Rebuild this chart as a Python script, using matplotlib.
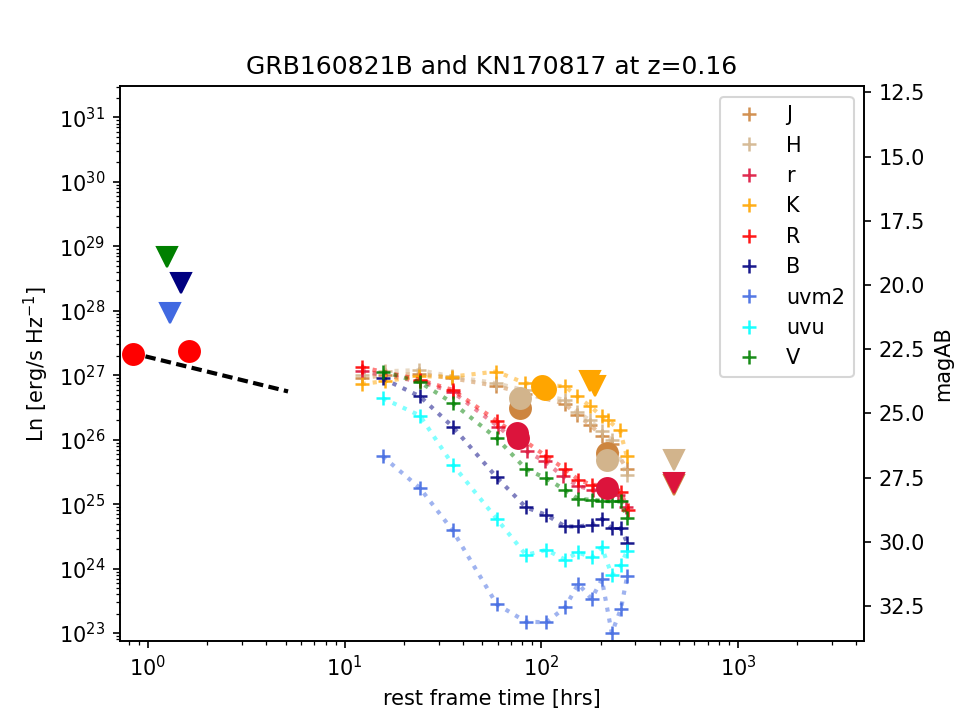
import matplotlib
matplotlib.use('Agg')
from matplotlib import pyplot as plt

# kilonova light curves (rest frame hours, Ln in erg/s/Hz)
t_uv = [15.6, 24.1, 35.4, 59.3, 83.5, 106, 132, 154, 180, 203, 228, 254, 273]
L_uvm2 = [5.5e25, 1.78e25, 3.9e24, 2.8e23, 1.5e23, 1.47e23, 2.5e23, 5.8e23, 3.4e23, 6.8e23, 1.0e23, 2.4e23, 7.6e23]
L_uvu = [4.4e26, 2.37e26, 4.1e25, 5.9e24, 1.63e24, 1.95e24, 1.38e24, 1.78e24, 1.49e24, 2.14e24, 7.9e23, 1.14e24, 1.9e24]
L_B = [8.9e26, 4.7e26, 1.59e26, 2.6e25, 8.9e24, 6.8e24, 4.5e24, 4.5e24, 4.8e24, 5.9e24, 4.2e24, 4.2e24, 2.5e24]
L_V = [1.14e27, 7.8e26, 3.7e26, 1.05e26, 3.5e25, 2.5e25, 1.66e25, 1.2e25, 1.17e25, 1.13e25, 1.1e25, 1.1e25, 6.0e24]

t_R = [12.2, 24.1, 35.4, 59.3, 106, 132, 154, 180, 211, 254, 275]
L_R = [1.33e27, 8.5e26, 5.9e26, 1.96e26, 5.5e25, 3.5e25, 2.4e25, 2.0e25, 1.95e25, 1.54e25, 8.2e24]
t_r = [12.2, 24.1, 35.4, 60.4, 84.2, 104, 129, 154, 184, 246, 270]
L_r = [1.15e27, 8.0e26, 5.5e26, 1.6e26, 6.6e25, 4.6e25, 2.7e25, 1.9e25, 1.66e25, 1.4e25, 9.0e24]

t_K = [12.2, 16, 24, 35, 59, 83, 132, 152, 177, 203, 218, 251, 272]
L_K = [7.3e26, 8.1e26, 9.6e26, 9.5e26, 1.14e27, 7.5e26, 6.7e26, 4.7e26, 3.3e26, 2.3e26, 2.0e26, 1.4e26, 5.5e25]
t_H = [12.2, 16, 24, 35, 59, 83, 132, 152, 177, 203, 228, 272]
L_H = [1.0e27, 1.15e27, 1.2e27, 9.6e26, 7.5e26, 5.8e26, 4.1e26, 2.7e26, 2.0e26, 1.34e26, 1.0e26, 2.8e25]
t_J = [12.2, 16, 24, 35, 59, 83, 132, 152, 177, 203, 228, 272]
L_J = [9.0e26, 1.0e27, 1.05e27, 9.0e26, 6.8e26, 5.2e26, 3.6e26, 2.4e26, 1.7e26, 1.15e26, 8.5e25, 3.5e25]

# GRB160821B detections and upper limits
t_grb_R = [0.84, 1.62]
L_grb_R = [2.1e27, 2.4e27]
t_grb_lim = [1.25, 1.47, 1.29]
L_grb_lim = [6.8e28, 2.7e28, 9.2e27]
c_grb_lim = ['green', 'navy', 'royalblue']
t_afterglow = [0.97, 5.15]
L_afterglow = [1.96e27, 5.6e26]

t_dot = [77.8, 215, 77.8, 215, 75.2, 76, 215, 100.7, 104]
L_dot = [3.1e26, 6.2e25, 4.4e26, 4.8e25, 1.26e26, 1.05e26, 1.78e25, 6.7e26, 6.2e26]
c_dot = ['peru', 'peru', 'tan', 'tan', 'crimson', 'crimson', 'crimson', 'orange', 'orange']
t_tri = [177, 187, 472, 472, 472]
L_tri = [8.1e26, 6.9e26, 2.0e25, 4.8e25, 2.1e25]
c_tri = ['orange', 'orange', 'peru', 'tan', 'crimson']

bands = ['J', 'H', 'r', 'K', 'R', 'B', 'uvm2', 'uvu', 'V']
colors = ['peru', 'tan', 'crimson', 'orange', 'red', 'navy', 'royalblue', 'cyan', 'green']
times = [t_J, t_H, t_r, t_K, t_R, t_uv, t_uv, t_uv, t_uv]
lums = [L_J, L_H, L_r, L_K, L_R, L_B, L_uvm2, L_uvu, L_V]

fig, ax = plt.subplots(figsize=(6.4, 4.8), dpi=150)

for band, c, t, L in zip(bands, colors, times, lums):
    ax.plot(t, L, ':', color=c, lw=2, alpha=0.5)
    ax.plot(t, L, '+', color=c, ms=7, mew=1.2, alpha=0.9, label=band)

for t, L, c in zip(t_dot, L_dot, c_dot):
    ax.plot(t, L, 'o', color=c, ms=10)
for t, L, c in zip(t_tri, L_tri, c_tri):
    ax.plot(t, L, 'v', color=c, ms=10)

ax.plot(t_afterglow, L_afterglow, color='black', lw=2, dashes=(2.5, 1.3))
ax.plot(t_grb_R, L_grb_R, 'o', color='red', ms=10)
for t, L, c in zip(t_grb_lim, L_grb_lim, c_grb_lim):
    ax.plot(t, L, 'v', color=c, ms=10)

ax.set_xscale('log')
ax.set_yscale('log')
ax.set_xlim(0.72, 4370)
ax.set_ylim(10**22.88, 10**31.48)
ax.set_xlabel('rest frame time [hrs]')
ax.set_ylabel('Ln [erg/s Hz$^{-1}$]')
ax.set_title('GRB160821B and KN170817 at z=0.16')
ax.legend(loc='upper right')

ax2 = ax.twinx()
ax2.set_ylim(33.85, 12.27)
ax2.set_yticks([12.5, 15.0, 17.5, 20.0, 22.5, 25.0, 27.5, 30.0, 32.5])
ax2.set_ylabel('magAB')

plt.savefig('out.png')
